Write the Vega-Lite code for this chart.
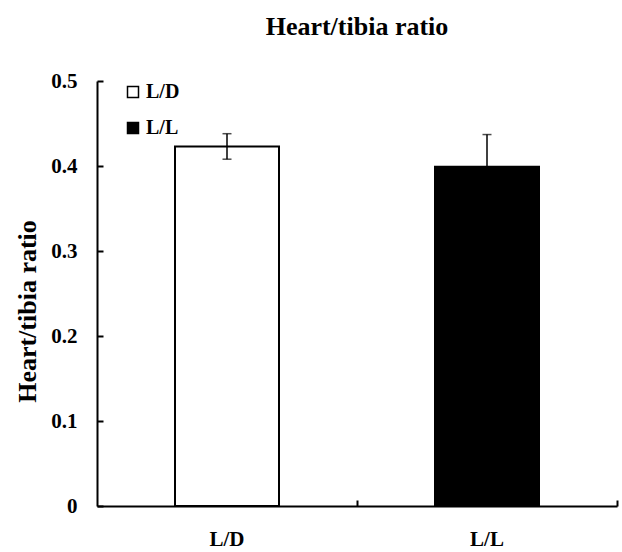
{
  "$schema": "https://vega.github.io/schema/vega-lite/v6.json",
  "autosize": "none",
  "width": 520,
  "height": 425,
  "padding": {"left": 97, "top": 81, "right": 5, "bottom": 46},
  "background": "white",
  "title": {
    "text": "Heart/tibia ratio",
    "font": "Liberation Serif",
    "fontSize": 26,
    "fontWeight": "bold",
    "color": "black",
    "anchor": "middle",
    "offset": 30
  },
  "config": {
    "view": {"stroke": null},
    "axis": {"grid": false}
  },
  "data": {
    "values": [
      {"group": "L/D", "value": 0.423, "lo": 0.408, "hi": 0.438},
      {"group": "L/L", "value": 0.399, "lo": 0.361, "hi": 0.437}
    ]
  },
  "encoding": {
    "x": {
      "field": "group",
      "type": "nominal",
      "sort": ["L/D", "L/L"],
      "scale": {"paddingInner": 0, "paddingOuter": 0},
      "axis": {
        "title": null,
        "bandPosition": 1,
        "labelOffset": 0,
        "labelAngle": 0,
        "labelFont": "Liberation Serif",
        "labelFontWeight": "bold",
        "labelFontSize": 21,
        "labelColor": "black",
        "labelPadding": 28,
        "tickSize": -6,
        "tickWidth": 2,
        "tickColor": "black",
        "domainColor": "black",
        "domainWidth": 2
      }
    }
  },
  "layer": [
    {
      "mark": {"type": "bar", "width": {"band": 0.4}, "stroke": "black", "strokeWidth": 2},
      "encoding": {
        "y": {
          "field": "value",
          "type": "quantitative",
          "scale": {"domain": [0, 0.5], "nice": false},
          "axis": {
            "title": "Heart/tibia ratio",
            "titleFont": "Liberation Serif",
            "titleFontWeight": "bold",
            "titleFontSize": 26,
            "titleColor": "black",
            "titleAngle": -90,
            "titleAnchor": "middle",
            "titleBaseline": "alphabetic",
            "titleX": -62,
            "titleY": 230,
            "values": [0, 0.1, 0.2, 0.3, 0.4, 0.5],
            "format": ".1~f",
            "labelFont": "Liberation Serif",
            "labelFontWeight": "bold",
            "labelFontSize": 21,
            "labelColor": "black",
            "labelPadding": 26,
            "tickSize": -6,
            "tickWidth": 2,
            "tickColor": "black",
            "domainColor": "black",
            "domainWidth": 2
          }
        },
        "fill": {
          "field": "group",
          "type": "nominal",
          "scale": {"domain": ["L/D", "L/L"], "range": ["white", "black"]},
          "legend": {
            "title": null,
            "orient": "none",
            "legendX": 26,
            "legendY": 1,
            "symbolType": "square",
            "symbolSize": 121,
            "symbolStrokeColor": "black",
            "symbolStrokeWidth": 1.5,
            "labelFont": "Liberation Serif",
            "labelFontWeight": "bold",
            "labelFontSize": 20,
            "labelColor": "black",
            "labelOffset": 3,
            "rowPadding": 16
          }
        }
      }
    },
    {
      "mark": {"type": "rule", "stroke": "black", "strokeWidth": 1.5},
      "encoding": {
        "y": {"field": "lo", "type": "quantitative"},
        "y2": {"field": "hi"}
      }
    },
    {
      "mark": {"type": "tick", "color": "black", "size": 9, "thickness": 1.5},
      "encoding": {"y": {"field": "hi", "type": "quantitative"}}
    },
    {
      "mark": {"type": "tick", "color": "black", "size": 9, "thickness": 1.5},
      "encoding": {"y": {"field": "lo", "type": "quantitative"}}
    }
  ]
}
